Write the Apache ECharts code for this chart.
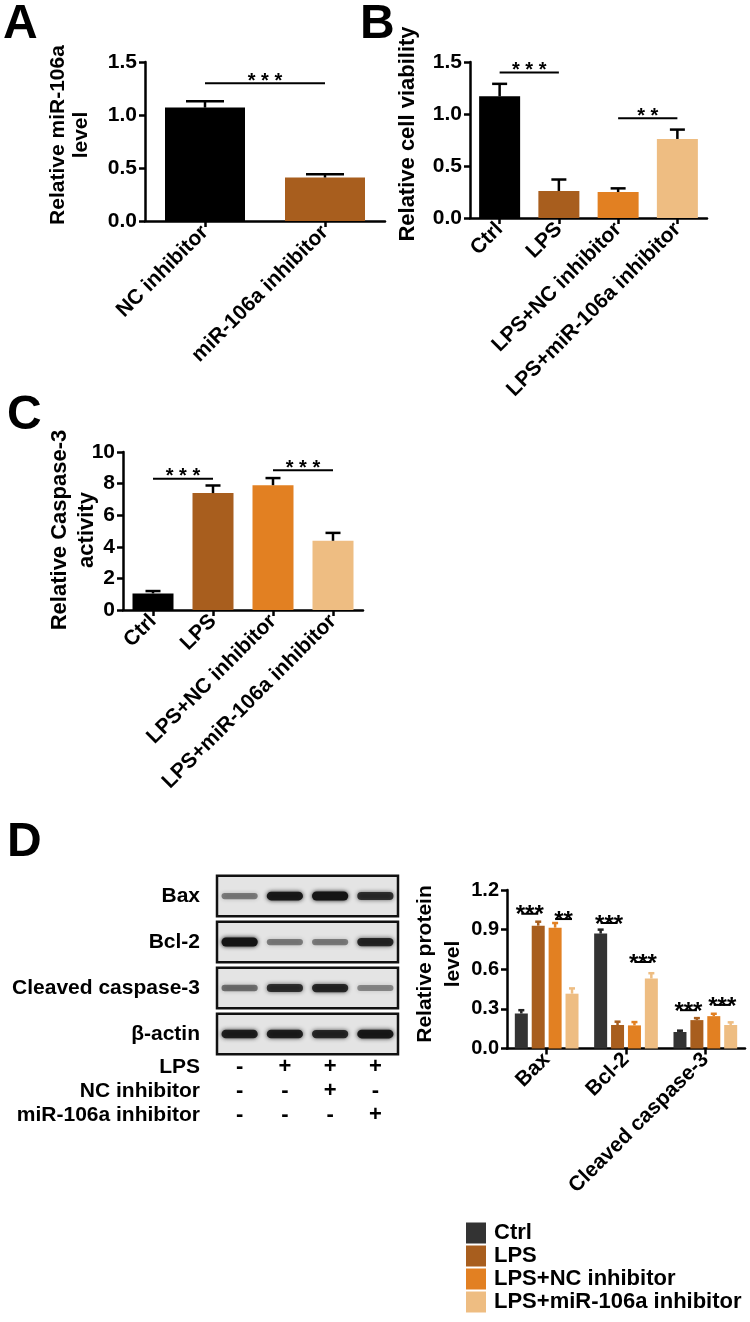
<!DOCTYPE html>
<html>
<head>
<meta charset="utf-8">
<title>miR-106a inhibitor figure</title>
<script src="https://cdn.jsdelivr.net/npm/echarts@6/dist/echarts.min.js"></script>
<style>
html, body { margin: 0; padding: 0; background: #fff; }
#chart { width: 750px; height: 1322px; }
</style>
</head>
<body>
<div id="chart"></div>
<script>
// groups used in B, C, D
const groupNames = ['Ctrl', 'LPS', 'LPS+NC inhibitor', 'LPS+miR-106a inhibitor'];
const groupColors = ['#000000', '#a85e1e', '#e28022', '#eebd82'];
const dColors = ['#333333', '#a85e1e', '#e28022', '#eebd82'];

// A - relative miR-106a level
const aCategories = ['NC inhibitor', 'miR-106a inhibitor'];
const aValues = [1.07, 0.41];
const aErrors = [0.06, 0.03];
const aTicks = [0, 0.5, 1.0, 1.5];
const aSig = [[0, 1, 1.3, '***']];

// B - relative cell viability
const bValues = [1.17, 0.26, 0.25, 0.76];
const bErrors = [0.12, 0.11, 0.035, 0.09];
const bTicks = [0, 0.5, 1.0, 1.5];
const bSig = [[0, 1, 1.4, '***'], [2, 3, 0.96, '**']];

// C - relative caspase-3 activity
const cValues = [1.05, 7.4, 7.9, 4.38];
const cErrors = [0.15, 0.48, 0.45, 0.5];
const cTicks = [0, 2, 4, 6, 8, 10];
const cSig = [[0, 1, 8.3, '***'], [2, 3, 8.85, '***']];

// D - relative protein level
const proteins = ['Bax', 'Bcl-2', 'Cleaved caspase-3'];
const dCtrl = [0.265, 0.87, 0.125];
const dLPS = [0.93, 0.178, 0.215];
const dNC = [0.915, 0.175, 0.245];
const dMiR = [0.415, 0.53, 0.178];
const dCtrlErr = [0.025, 0.03, 0.01];
const dLPSErr = [0.03, 0.025, 0.015];
const dNCErr = [0.035, 0.025, 0.018];
const dMiRErr = [0.04, 0.04, 0.02];
const dTicks = [0, 0.3, 0.6, 0.9, 1.2];
// [protein, bar from, bar to, line height, stars]
const dSig = [
  [0, 0, 1, 1.02, '***'], [0, 2, 3, 0.98, '**'],
  [1, 0, 1, 0.95, '***'], [1, 2, 3, 0.655, '***'],
  [2, 0, 1, 0.29, '***'], [2, 2, 3, 0.33, '***']
];

// western blot band darkness per lane
const blotProteins = ['Bax', 'Bcl-2', 'Cleaved caspase-3', 'β-actin'];
const blotLanes = ['1', '2', '3', '4'];
const bandBax = [0.45, 0.95, 1.0, 0.8];
const bandBcl2 = [1.0, 0.45, 0.45, 0.85];
const bandCasp3 = [0.5, 0.8, 0.85, 0.4];
const bandActin = [0.9, 0.9, 0.85, 0.95];

// treatment table under the blot
const treatmentRows = ['LPS', 'NC inhibitor', 'miR-106a inhibitor'];
const treatLPS = [0, 1, 1, 1];
const treatNC = [0, 0, 1, 0];
const treatMiR = [0, 0, 0, 1];

const font = '"Liberation Sans", Arial, Helvetica, sans-serif';
const chart = echarts.init(document.getElementById('chart'));

function catAxis(gridIndex, data) {
  return {
    type: 'category', gridIndex: gridIndex, data: data,
    axisLine: { show: true, onZero: false, lineStyle: { color: '#000', width: 2.5 } },
    axisTick: { show: true, alignWithLabel: true, length: 6, lineStyle: { color: '#000', width: 2.5 } },
    axisLabel: { rotate: 45, interval: 0, color: '#000', fontSize: 21, fontWeight: 'bold', fontFamily: font, margin: 8 },
    splitLine: { show: false }
  };
}

function hiddenAxis(gridIndex, n) {
  return { type: 'value', gridIndex: gridIndex, min: -0.5, max: n - 0.5, show: false };
}

function valAxis(gridIndex, ticks, decimals, fontSize) {
  return {
    type: 'value', gridIndex: gridIndex,
    min: ticks[0], max: ticks[ticks.length - 1], interval: ticks[1] - ticks[0],
    axisLine: { show: true, onZero: false, lineStyle: { color: '#000', width: 2.5 } },
    axisTick: { show: true, length: 6, lineStyle: { color: '#000', width: 2.5 } },
    axisLabel: {
      color: '#000', fontSize: fontSize, fontWeight: 'bold', fontFamily: font, margin: 8,
      formatter: function (v) { return v.toFixed(decimals); }
    },
    splitLine: { show: false }
  };
}

function barSeries(xIdx, yIdx, values, width) {
  return {
    type: 'bar', xAxisIndex: xIdx, yAxisIndex: yIdx, barWidth: width, silent: true,
    data: values.map(function (v, i) { return { value: v, itemStyle: { color: groupColors[i] } }; })
  };
}

function errorSeries(xIdx, yIdx, points, cap, colors) {
  return {
    type: 'custom', xAxisIndex: xIdx, yAxisIndex: yIdx, z: 3, silent: true,
    data: points,
    renderItem: function (params, api) {
      const x = api.value(0), v = api.value(1), e = api.value(2);
      const p0 = api.coord([x, v]);
      const p1 = api.coord([x, v + e]);
      const c = colors[params.dataIndex % colors.length];
      return {
        type: 'group', children: [
          { type: 'line', shape: { x1: p0[0], y1: p0[1], x2: p1[0], y2: p1[1] }, style: { stroke: c, lineWidth: 2.5 } },
          { type: 'line', shape: { x1: p1[0] - cap / 2, y1: p1[1], x2: p1[0] + cap / 2, y2: p1[1] }, style: { stroke: c, lineWidth: 2.5 } }
        ]
      };
    }
  };
}

// items: [x1, x2, y, label]
function sigSeries(xIdx, yIdx, items, starSize, spaced, dy) {
  return {
    type: 'custom', xAxisIndex: xIdx, yAxisIndex: yIdx, z: 4, silent: true,
    data: items.map(function (s) { return [s[0], s[1], s[2]]; }),
    renderItem: function (params, api) {
      const p1 = api.coord([api.value(0), api.value(2)]);
      const p2 = api.coord([api.value(1), api.value(2)]);
      let label = items[params.dataIndex][3];
      if (spaced) label = label.split('').join(' ');
      return {
        type: 'group', children: [
          { type: 'line', shape: { x1: p1[0], y1: p1[1], x2: p2[0], y2: p2[1] }, style: { stroke: '#000', lineWidth: 2 } },
          {
            type: 'text', style: {
              text: label, x: (p1[0] + p2[0]) / 2, y: p1[1] + dy, align: 'center', verticalAlign: 'middle',
              fontSize: starSize, fontWeight: 'bold', fontFamily: font, fill: '#000'
            }
          }
        ]
      };
    }
  };
}

// D bar geometry: 4 bars of 13px with 30% gap in a band of 238/3 px
const dBarW = 13, dGap = 3.9, dBand = 238 / 3;
function dOffset(k) { return ((k - 1.5) * (dBarW + dGap)) / dBand; }

const dSeriesValues = [dCtrl, dLPS, dNC, dMiR];
const dSeriesErrors = [dCtrlErr, dLPSErr, dNCErr, dMiRErr];

const series = [
  barSeries(0, 0, aValues, 80),
  errorSeries(1, 0, aValues.map(function (v, i) { return [i, v, aErrors[i]]; }), 38, ['#000']),
  sigSeries(1, 0, aSig, 20, true, -2),

  barSeries(2, 1, bValues, 41),
  errorSeries(3, 1, bValues.map(function (v, i) { return [i, v, bErrors[i]]; }), 15, ['#000']),
  sigSeries(3, 1, bSig, 20, true, -2),

  barSeries(4, 2, cValues, 41),
  errorSeries(5, 2, cValues.map(function (v, i) { return [i, v, cErrors[i]]; }), 15, ['#000']),
  sigSeries(5, 2, cSig, 20, true, -2)
];

dSeriesValues.forEach(function (vals, k) {
  series.push({
    name: groupNames[k], type: 'bar', xAxisIndex: 6, yAxisIndex: 3,
    barWidth: dBarW, barGap: '30%', silent: true,
    itemStyle: { color: dColors[k] }, data: vals
  });
});
dSeriesValues.forEach(function (vals, k) {
  series.push(errorSeries(7, 3, vals.map(function (v, i) { return [i + dOffset(k), v, dSeriesErrors[k][i]]; }), 6, [k === 0 ? '#222' : dColors[k]]));
});
series.push(sigSeries(7, 3, dSig.map(function (s) {
  return [s[0] + dOffset(s[1]), s[0] + dOffset(s[2]), s[3], s[4]];
}), 24, false, 2));

// western blot boxes and bands
series.push({
  type: 'custom', xAxisIndex: 8, yAxisIndex: 4, silent: true,
  data: blotProteins.map(function (p, i) { return [0, i]; }),
  renderItem: function (params, api) {
    const cs = params.coordSys;
    const c = api.coord([0, api.value(1)]);
    const h = api.size([0, 1])[1] * 0.88;
    return {
      type: 'rect', shape: { x: cs.x, y: c[1] - h / 2, width: cs.width, height: h },
      style: { fill: '#e4e4e4', stroke: '#111', lineWidth: 2.5 }
    };
  }
});
const bandRows = [bandBax, bandBcl2, bandCasp3, bandActin];
const bandData = [];
bandRows.forEach(function (row, r) {
  row.forEach(function (d, lane) { bandData.push([lane, r, d]); });
});
series.push({
  type: 'custom', xAxisIndex: 8, yAxisIndex: 4, silent: true, z: 3,
  data: bandData,
  renderItem: function (params, api) {
    const d = api.value(2);
    const c = api.coord([api.value(0), api.value(1)]);
    const w = api.size([1, 0])[0] * 0.8;
    const h = 4 + 5 * d;
    const col = 'rgba(20,20,20,' + d + ')';
    return {
      type: 'rect', shape: { x: c[0] - w / 2, y: c[1] - h / 2, width: w, height: h, r: h / 2 },
      style: { fill: col, shadowBlur: 4, shadowColor: col }
    };
  }
});

// treatment +/- table
const treatData = [];
[treatLPS, treatNC, treatMiR].forEach(function (row, r) {
  row.forEach(function (flag, lane) { treatData.push([lane, r, flag]); });
});
series.push({
  type: 'custom', xAxisIndex: 9, yAxisIndex: 5, silent: true,
  data: treatData,
  renderItem: function (params, api) {
    const c = api.coord([api.value(0), api.value(1)]);
    return {
      type: 'text', style: {
        text: api.value(2) ? '+' : '-', x: c[0], y: c[1], align: 'center', verticalAlign: 'middle',
        fontSize: 22, fontWeight: 'bold', fontFamily: font, fill: '#000'
      }
    };
  }
});

function rowAxis(gridIndex, data) {
  return {
    type: 'category', gridIndex: gridIndex, data: data, inverse: true,
    axisLine: { show: false }, axisTick: { show: false }, splitLine: { show: false },
    axisLabel: { interval: 0, color: '#000', fontSize: 21, fontWeight: 'bold', fontFamily: font, margin: 17 }
  };
}
function laneAxis(gridIndex) {
  return { type: 'category', gridIndex: gridIndex, data: blotLanes, show: false };
}

function panelText(x, y, text, size, rotate, lineHeight) {
  return {
    type: 'text', x: x, y: y, rotation: rotate ? Math.PI / 2 : 0,
    style: {
      text: text, align: rotate ? 'center' : 'left', verticalAlign: 'middle',
      fontSize: size, fontWeight: 'bold', fontFamily: font, fill: '#000', lineHeight: lineHeight || size
    }
  };
}

chart.setOption({
  animation: false,
  backgroundColor: '#fff',
  textStyle: { fontFamily: font },
  grid: [
    { left: 145, top: 62, width: 240, height: 159 },
    { left: 470, top: 62, width: 237, height: 156 },
    { left: 123, top: 452, width: 240, height: 158 },
    { left: 507, top: 890, width: 238, height: 158.5 },
    { left: 217, top: 873, width: 181, height: 184 },
    { left: 217, top: 1055, width: 181, height: 72 }
  ],
  xAxis: [
    catAxis(0, aCategories), hiddenAxis(0, 2),
    catAxis(1, groupNames), hiddenAxis(1, 4),
    catAxis(2, groupNames), hiddenAxis(2, 4),
    catAxis(3, proteins), hiddenAxis(3, 3),
    laneAxis(4), laneAxis(5)
  ],
  yAxis: [
    valAxis(0, aTicks, 1, 21),
    valAxis(1, bTicks, 1, 21),
    valAxis(2, cTicks, 0, 21),
    valAxis(3, dTicks, 1, 20),
    rowAxis(4, blotProteins),
    rowAxis(5, treatmentRows)
  ],
  legend: {
    data: groupNames, orient: 'vertical', left: 466, top: 1222, height: 100, padding: 0,
    itemWidth: 20, itemHeight: 21, itemGap: 1, icon: 'rect', selectedMode: false,
    textStyle: { color: '#000', fontSize: 22, lineHeight: 21, fontWeight: 'bold', fontFamily: font, padding: [0, 0, 0, 3] }
  },
  graphic: [
    panelText(3, 25, 'A', 48),
    panelText(360, 25, 'B', 48),
    panelText(7, 416, 'C', 48),
    panelText(7, 843, 'D', 48),
    panelText(70, 135, 'Relative miR-106a\nlevel', 21, true, 23),
    panelText(408, 134, 'Relative cell viability', 22, true),
    panelText(73, 530, 'Relative Caspase-3\nactivity', 22, true, 27),
    panelText(439, 964, 'Relative protein\nlevel', 21, true, 28)
  ],
  series: series
});
</script>
</body>
</html>
